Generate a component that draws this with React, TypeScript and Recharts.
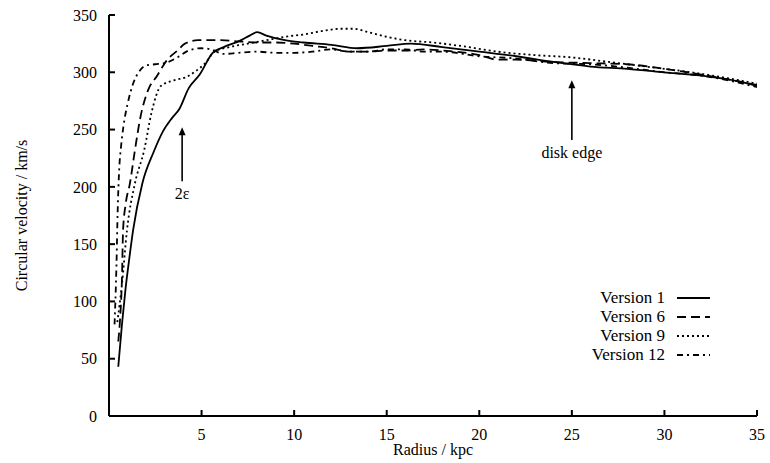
import React from 'react';
import { LineChart, Line, XAxis, YAxis, ReferenceLine, Legend } from 'recharts';

// radius (kpc) / circular velocity (km/s) for each model version
const v1Radius = [0.5, 0.7, 0.9, 1.1, 1.3, 1.8, 2.4, 2.9, 3.4, 3.8, 4.3, 4.9, 5.6, 6.2, 7.0, 7.6, 8.0, 8.5, 9.5, 10.5, 12.0, 13.4, 15.0, 16.3, 18.0, 20.0, 22.0, 24.0, 26.0, 28.0, 30.0, 32.0, 34.0, 35.0];
const v1Velocity = [43, 80, 112, 138, 162, 203, 230, 248, 260, 268, 286, 298, 317, 322, 327, 332, 335, 332, 328, 326, 324, 321, 323, 325, 322, 318, 314, 309, 305, 303, 300, 297, 292, 288];

const v6Radius = [0.5, 0.6, 0.7, 0.76, 0.9, 1.13, 1.4, 1.7, 2.1, 2.6, 3.1, 3.7, 4.1, 4.8, 6.0, 7.0, 8.0, 9.0, 10.0, 11.0, 12.0, 13.0, 14.0, 15.0, 16.0, 17.0, 18.0, 20.0, 21.0, 22.0, 24.0, 26.0, 28.0, 30.0, 32.0, 34.0, 35.0];
const v6Velocity = [65, 85, 120, 162, 185, 203, 232, 261, 284, 297, 310, 319, 325, 328, 328, 327, 326, 326, 325, 323, 321, 318, 318, 319, 319, 320, 319, 315, 311, 311, 309, 308, 307, 303, 298, 292, 289];

const v9Radius = [0.45, 0.7, 0.97, 1.4, 1.9, 2.3, 2.8, 3.5, 4.2, 4.6, 5.2, 5.7, 6.5, 7.5, 8.5, 9.5, 10.5, 11.5, 12.5, 13.2, 14.0, 15.0, 16.0, 17.5, 19.0, 21.0, 23.0, 25.0, 27.0, 29.0, 31.0, 33.0, 35.0];
const v9Velocity = [82, 115, 162, 203, 232, 265, 288, 293, 296, 300, 308, 318, 322, 325, 328, 331, 333, 336, 338, 338, 335, 331, 328, 326, 323, 318, 315, 313, 309, 305, 301, 296, 290];

const v12Radius = [0.3, 0.4, 0.47, 0.55, 0.65, 0.8, 1.0, 1.3, 1.6, 2.0, 2.5, 3.0, 3.7, 4.3, 5.0, 5.5, 6.2, 7.0, 8.0, 9.0, 10.0, 11.0, 12.0, 13.0, 14.0, 15.0, 16.0, 17.0, 18.0, 20.0, 22.0, 24.0, 26.0, 28.0, 30.0, 32.0, 34.0, 35.0];
const v12Velocity = [80, 130, 180, 215, 235, 255, 272, 290, 300, 306, 307, 308, 313, 319, 321, 320, 316, 317, 318, 317, 317, 318, 320, 318, 318, 320, 320, 318, 318, 314, 312, 308, 307, 304, 300, 297, 291, 287];

const xTicks = [5, 10, 15, 20, 25, 30, 35];
const yTicks = [0, 50, 100, 150, 200, 250, 300, 350];

const series = [
  { name: 'Version 1', radius: v1Radius, velocity: v1Velocity, dash: undefined },
  { name: 'Version 6', radius: v6Radius, velocity: v6Velocity, dash: '9 5' },
  { name: 'Version 9', radius: v9Radius, velocity: v9Velocity, dash: '2 3' },
  { name: 'Version 12', radius: v12Radius, velocity: v12Velocity, dash: '6 4 2 4' },
];

const toPoints = (r: number[], v: number[]) => r.map((x, i) => ({ r: x, v: v[i] }));

const FONT = '"Liberation Serif", "DejaVu Serif", serif';

// vertical arrow pointing up, with a text caption under its tail
const arrowShape = (caption: string) => (props: any) => {
  const { x1, y1, x2, y2 } = props;
  const top = Math.min(y1, y2);
  const bottom = Math.max(y1, y2);
  const x = x1 ?? x2;
  return (
    <g>
      <line x1={x} y1={bottom} x2={x} y2={top + 4} stroke="#000" strokeWidth={1.6} />
      <polygon points={`${x - 3.5},${top + 8} ${x + 3.5},${top + 8} ${x},${top}`} fill="#000" />
      <text x={x} y={bottom + 18} textAnchor="middle" fontFamily={FONT} fontSize={16} fill="#000">
        {caption}
      </text>
    </g>
  );
};

const KeyBox = () => (
  <div style={{ fontFamily: FONT, fontSize: 17, color: '#000', lineHeight: '19px' }}>
    {series.map((s) => (
      <div key={s.name} style={{ display: 'flex', alignItems: 'center', justifyContent: 'flex-end' }}>
        <span>{s.name}</span>
        <svg width={45} height={19}>
          <line x1={12} y1={10} x2={45} y2={10} stroke="#000" strokeWidth={1.8} strokeDasharray={s.dash} />
        </svg>
      </div>
    ))}
  </div>
);

export default function App() {
  return (
    <div style={{ position: 'absolute', left: 0, top: 0, background: '#fff' }}>
      <LineChart width={770} height={463} margin={{ top: 15, right: 13, bottom: 7, left: 49 }}>
        <XAxis
          type="number"
          dataKey="r"
          domain={[0, 35]}
          ticks={xTicks}
          allowDataOverflow
          height={40}
          stroke="#000"
          strokeWidth={2}
          tickSize={-6}
          tickMargin={19}
          tick={{ fill: '#000', fontSize: 16, fontFamily: FONT }}
          label={{ value: 'Radius / kpc', position: 'center', dy: 13, fill: '#000', fontSize: 16, fontFamily: FONT }}
        />
        <XAxis xAxisId="top" orientation="top" type="number" dataKey="r" domain={[0, 35]} ticks={xTicks} height={0} stroke="#000" strokeWidth={2} tickSize={-6} tick={false} />
        <YAxis
          type="number"
          domain={[0, 350]}
          ticks={yTicks}
          width={60}
          stroke="#000"
          strokeWidth={2}
          tickSize={-6}
          tickMargin={18}
          tick={{ fill: '#000', fontSize: 16, fontFamily: FONT }}
          label={{ value: 'Circular velocity / km/s', angle: -90, position: 'center', dx: -58, fill: '#000', fontSize: 16, fontFamily: FONT }}
        />
        <YAxis yAxisId="right" orientation="right" type="number" domain={[0, 350]} ticks={yTicks} width={0} stroke="#000" strokeWidth={2} tickSize={-6} tick={false} />
        {series.map((s) => (
          <Line
            key={s.name}
            name={s.name}
            data={toPoints(s.radius, s.velocity)}
            dataKey="v"
            type="monotone"
            stroke="#000"
            strokeWidth={1.8}
            strokeDasharray={s.dash}
            dot={false}
            isAnimationActive={false}
          />
        ))}
        <ReferenceLine segment={[{ x: 3.95, y: 205 }, { x: 3.95, y: 252 }]} shape={arrowShape('2ε')} />
        <ReferenceLine segment={[{ x: 25, y: 241 }, { x: 25, y: 293 }]} shape={arrowShape('disk edge')} />
        <Legend
          layout="horizontal"
          verticalAlign="middle"
          align="center"
          content={<KeyBox />}
          wrapperStyle={{ left: 555, top: 288, width: 155, height: 80 }}
        />
      </LineChart>
    </div>
  );
}
